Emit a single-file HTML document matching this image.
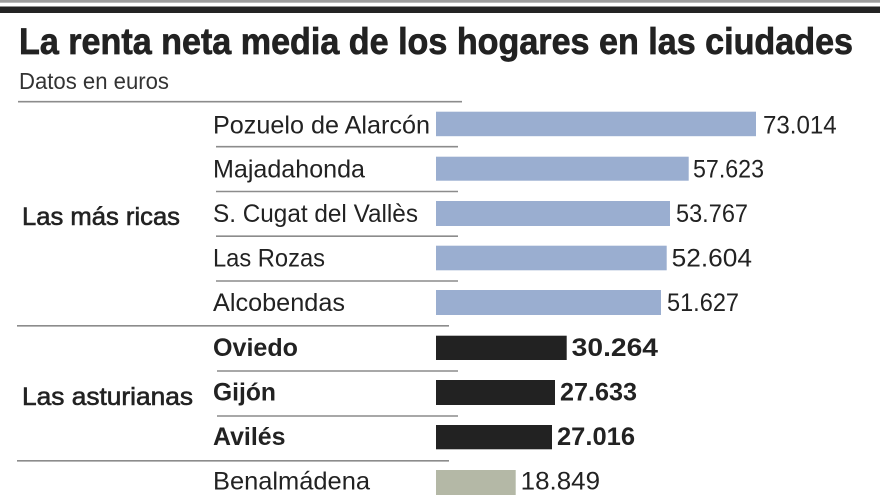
<!DOCTYPE html>
<html><head><meta charset="utf-8"><style>
html,body{margin:0;padding:0;background:#fff;}
svg{display:block;}
text{font-family:"Liberation Sans",sans-serif;fill:#222;}
</style></head><body>
<svg width="880" height="495" viewBox="0 0 880 495" xmlns="http://www.w3.org/2000/svg">
<rect x="0" y="0" width="880" height="495" fill="#fff"/>
<rect x="0" y="0" width="880" height="2.7" fill="#9c9c9c"/>
<rect x="0" y="6.5" width="880" height="6.5" fill="#232323"/>
<text x="19" y="54" font-size="37" font-weight="bold" textLength="834" lengthAdjust="spacingAndGlyphs" style="stroke:#222;stroke-width:0.7">La renta neta media de los hogares en las ciudades</text>
<text x="19" y="89" font-size="23" textLength="150" lengthAdjust="spacingAndGlyphs" style="fill:#333">Datos en euros</text>
<g stroke="#8c8c8c" stroke-width="1.6">
<line x1="18" y1="101.7" x2="462" y2="101.7"/>
<line x1="216" y1="146.7" x2="458" y2="146.7"/>
<line x1="216" y1="191.5" x2="458" y2="191.5"/>
<line x1="216" y1="236.2" x2="458" y2="236.2"/>
<line x1="216" y1="281" x2="458" y2="281"/>
<line x1="17" y1="325.8" x2="449" y2="325.8"/>
<line x1="217" y1="371" x2="458" y2="371"/>
<line x1="217" y1="416" x2="458" y2="416"/>
<line x1="17" y1="460.8" x2="449" y2="460.8"/>
</g>
<g fill="#9aaed0">
<rect x="436" y="111.7" width="320" height="24.5"/>
<rect x="436" y="156.7" width="252.7" height="24"/>
<rect x="436" y="201" width="234" height="25"/>
<rect x="436" y="245.7" width="230.7" height="24.6"/>
<rect x="436" y="290" width="225" height="25"/>
</g>
<g fill="#222">
<rect x="436" y="335.7" width="130.7" height="24.3"/>
<rect x="436" y="380" width="119" height="25"/>
<rect x="436" y="425" width="116" height="24.3"/>
</g>
<rect x="436" y="470" width="79.7" height="25" fill="#b4b8a6"/>
<text x="22" y="225" font-size="25" textLength="158" lengthAdjust="spacingAndGlyphs" style="stroke:#222;stroke-width:0.6">Las más ricas</text>
<text x="22" y="405" font-size="25" textLength="171" lengthAdjust="spacingAndGlyphs" style="stroke:#222;stroke-width:0.6">Las asturianas</text>
<g font-size="25">
<text x="213" y="133.3" textLength="217" lengthAdjust="spacingAndGlyphs">Pozuelo de Alarcón</text>
<text x="213" y="177.7" textLength="152" lengthAdjust="spacingAndGlyphs">Majadahonda</text>
<text x="213" y="222" textLength="205" lengthAdjust="spacingAndGlyphs">S. Cugat del Vallès</text>
<text x="213" y="266.5" textLength="112" lengthAdjust="spacingAndGlyphs">Las Rozas</text>
<text x="213" y="311" textLength="132" lengthAdjust="spacingAndGlyphs">Alcobendas</text>
<text x="213" y="489.5" textLength="157" lengthAdjust="spacingAndGlyphs">Benalmádena</text>
<text x="763" y="133.3" textLength="73.7" lengthAdjust="spacingAndGlyphs">73.014</text>
<text x="693" y="177.7" textLength="71" lengthAdjust="spacingAndGlyphs">57.623</text>
<text x="676" y="222" textLength="72" lengthAdjust="spacingAndGlyphs">53.767</text>
<text x="671.7" y="266.5" textLength="80.3" lengthAdjust="spacingAndGlyphs">52.604</text>
<text x="667" y="311" textLength="72" lengthAdjust="spacingAndGlyphs">51.627</text>
<text x="520.7" y="489.5" textLength="79.3" lengthAdjust="spacingAndGlyphs">18.849</text>
</g>
<g font-size="25" font-weight="bold">
<text x="213" y="356" textLength="85" lengthAdjust="spacingAndGlyphs">Oviedo</text>
<text x="213" y="400.5" textLength="63" lengthAdjust="spacingAndGlyphs">Gijón</text>
<text x="213" y="445" textLength="72.5" lengthAdjust="spacingAndGlyphs">Avilés</text>
<text x="571.7" y="356" textLength="86.3" lengthAdjust="spacingAndGlyphs">30.264</text>
<text x="560" y="400.5" textLength="77" lengthAdjust="spacingAndGlyphs">27.633</text>
<text x="557" y="445" textLength="78" lengthAdjust="spacingAndGlyphs">27.016</text>
</g>
</svg>
</body></html>
